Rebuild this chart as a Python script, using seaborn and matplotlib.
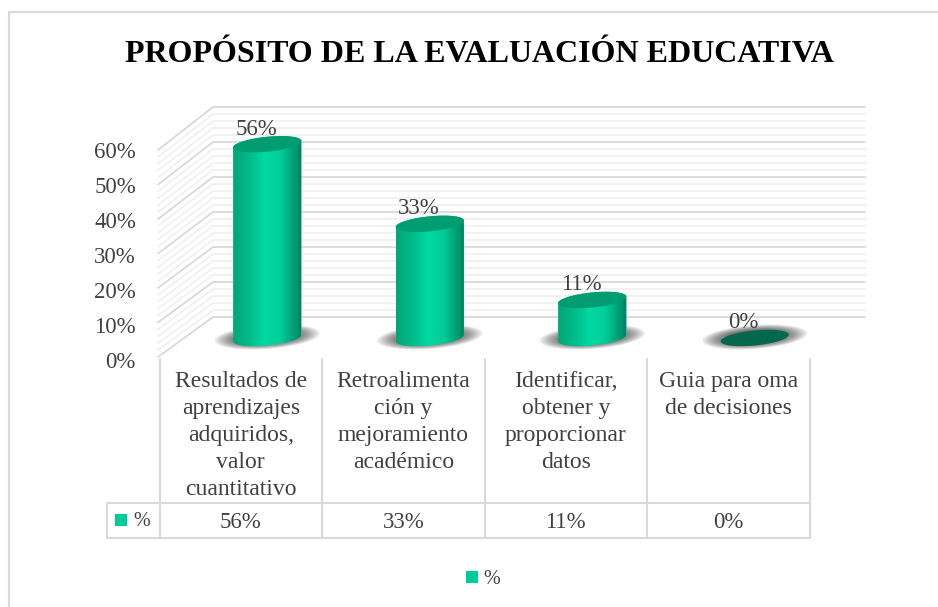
import numpy as np
import seaborn as sns
import matplotlib
matplotlib.use('Agg')
import matplotlib.pyplot as plt
from matplotlib.colors import LinearSegmentedColormap
from matplotlib.patches import Polygon, Rectangle

categorias = ['Resultados de\naprendizajes\nadquiridos,\nvalor\ncuantitativo',
              'Retroalimenta\nción y\nmejoramiento\nacadémico',
              'Identificar,\nobtener y\nproporcionar\ndatos',
              'Guia para oma\nde decisiones']
valores = [0.56, 0.33, 0.11, 0.0]
etiquetas = ['56%', '33%', '11%', '0%']
ticks_mayor = [0.0, 0.1, 0.2, 0.3, 0.4, 0.5, 0.6]
ticks_menor = [0.02, 0.04, 0.06, 0.08, 0.12, 0.14, 0.16, 0.18, 0.22, 0.24, 0.26, 0.28,
               0.32, 0.34, 0.36, 0.38, 0.42, 0.44, 0.46, 0.48, 0.52, 0.54, 0.56, 0.58]
titulo = 'PROPÓSITO DE LA EVALUACIÓN EDUCATIVA'

W, H = 938, 607
verde = '#00cc99'
gris = '#d9d9d9'
texto = '#404040'

sns.set_theme(style='white')
plt.rcParams['font.family'] = ['Liberation Serif', 'DejaVu Serif']

fig = plt.figure(figsize=(W / 100, H / 100), dpi=100, facecolor='white')


def capa(z):
    # full figure layer in pixel coordinates
    a = fig.add_axes([0, 0, 1, 1], zorder=z)
    a.set_xlim(0, W)
    a.set_ylim(H, 0)
    a.axis('off')
    a.patch.set_alpha(0)
    return a


fondo = capa(0)
frente = capa(2)

# bars live in their own axes, floor at y=338 px
ax = fig.add_axes([186 / W, (H - 338) / H, 650 / W, 242.2 / H], zorder=1)
sns.barplot(x=categorias, y=valores, color=verde, width=0.42, saturation=1, ax=ax)
ax.set_xlim(-0.5, 3.5)
ax.set_ylim(0, 0.7)
ax.axis('off')
ax.patch.set_alpha(0)


def elipse(cx, cy, a, b, t0=0, t1=2 * np.pi, tilt=5.5):
    t = np.linspace(t0, t1, 80)
    inc = np.tan(np.radians(tilt))
    return np.column_stack([cx + a * np.cos(t), cy + b * np.sin(t) - a * np.cos(t) * inc])


# walls
for v in ticks_menor + ticks_mayor:
    c = gris if v in ticks_mayor else '#f0f0f0'
    y_f = 357 - v * 345
    y_b = 317 - v * 350
    fondo.plot([158, 213, 865], [y_f, y_b, y_b], color=c, lw=1.3, zorder=2 if v in ticks_mayor else 1,
               solid_joinstyle='miter')

# bars: shadow, gradient and caps
grad = LinearSegmentedColormap.from_list('cil', ['#03a577', '#00bd8c', '#00d8a2', '#00cf9b', '#00a077', '#007d5c'])
fila = np.interp(np.linspace(0, 1, 200), [0, 0.25, 0.55, 0.7, 0.92, 1], [0, 0.2, 0.5, 0.62, 0.85, 1])[None, :]

for p, v, et in zip(ax.patches, valores, etiquetas):
    x0, y0 = ax.transData.transform((p.get_x(), 0))
    x1, y1 = ax.transData.transform((p.get_x() + p.get_width(), p.get_height()))
    cx = (x0 + x1) / 2
    a = (x1 - x0) / 2
    base = H - y0
    tope = H - y1

    # soft shadow from stacked translucent ellipses
    for k in np.linspace(1, 0.45, 22):
        fondo.add_patch(Polygon(elipse(cx, base - 1, 53 * k, 12 * k, tilt=4), closed=True, fc='#202020',
                                ec='none', alpha=0.05, zorder=3))

    if v > 0:
        cuerpo = np.vstack([elipse(cx, base, a, 7.5, 0, np.pi), elipse(cx, tope, a, 7.5, np.pi, 2 * np.pi)])
        clip = Polygon(cuerpo, closed=True, transform=frente.transData, fc='none', ec='none')
        frente.add_patch(clip)
        im = frente.imshow(fila, extent=[cx - a, cx + a, base + 14, tope - 14], aspect='auto', cmap=grad,
                           vmin=0, vmax=1, zorder=1)
        im.set_clip_path(clip)
        p.set_clip_path(clip)
        tapa = '#009c72'
    else:
        tapa = '#03684c'
    frente.add_patch(Polygon(elipse(cx, tope, a, 7.5), closed=True, fc=tapa, ec='none', zorder=2))
    frente.text(cx - 11, tope - 15, et, ha='center', va='center', fontsize=16.5, color=texto, zorder=3)

frente.set_xlim(0, W)
frente.set_ylim(H, 0)

# y axis labels
for v in ticks_mayor:
    frente.text(136, 362.5 - v * 350, f'{v:.0%}', ha='right', va='center', fontsize=16.5, color=texto)

# data table
cols = [159.5, 322, 484.5, 647, 810]
for x in cols:
    fondo.plot([x, x], [359, 538], color=gris, lw=1.5)
fondo.plot([107, 107], [503, 538], color=gris, lw=1.5)
fondo.plot([107, 810], [503, 503], color=gris, lw=1.5)
fondo.plot([107, 810], [538, 538], color=gris, lw=1.5)

for i, (cat, et) in enumerate(zip(categorias, etiquetas)):
    cx = (cols[i] + cols[i + 1]) / 2
    frente.text(cx, 371, cat, ha='center', va='top', fontsize=17, color=texto, linespacing=1.38)
    frente.text(cx, 522, et, ha='center', va='center', fontsize=16.5, color=texto)

fondo.add_patch(Rectangle((115, 514), 12, 12, fc=verde, ec='none'))
frente.text(133, 522, '%', ha='left', va='center', fontsize=14.5, color=texto)

# legend
fondo.add_patch(Rectangle((466, 571), 12, 12, fc=verde, ec='none'))
frente.text(483, 579, '%', ha='left', va='center', fontsize=14.5, color=texto)

# chart border (no right or bottom edge in the crop)
fondo.plot([W, 8.5, 8.5], [11.5, 11.5, H], color=gris, lw=1.6, solid_joinstyle='miter')

frente.text(479, 55, titulo, ha='center', va='center', fontsize=23, fontweight='bold', color='black')

fig.savefig('out.png', dpi=100)
